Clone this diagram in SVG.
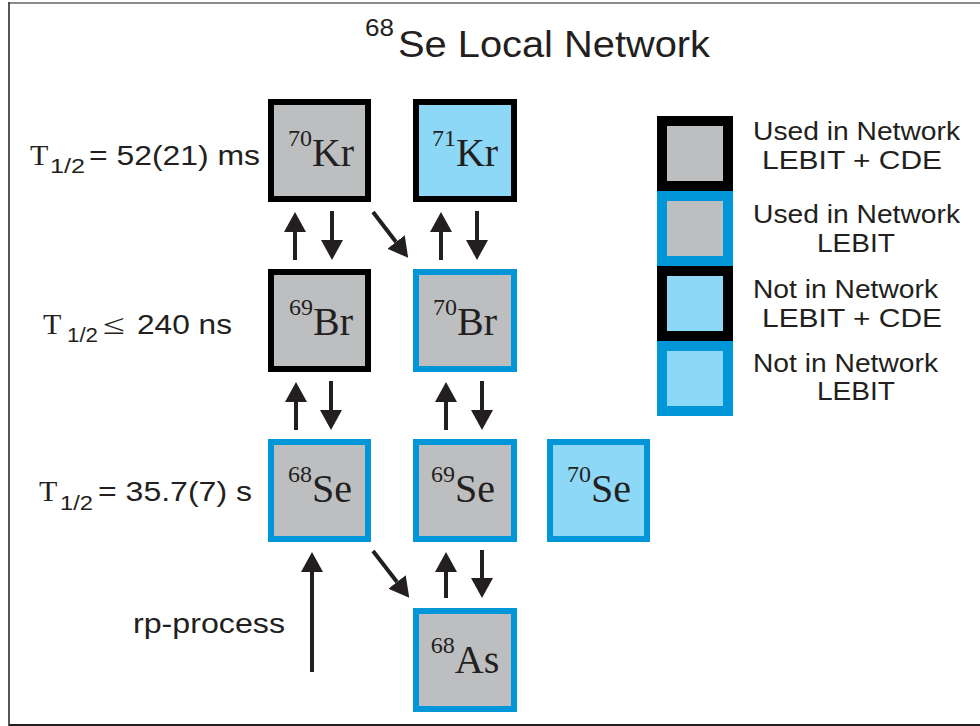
<svg xmlns="http://www.w3.org/2000/svg" width="980" height="726" viewBox="0 0 980 726">
<defs>
<style>
.sans{font-family:"Liberation Sans",Arial,sans-serif;fill:#231f20}
.serif{font-family:"Liberation Serif","Times New Roman",serif;fill:#231f20}
.nlab{font-size:40px;text-anchor:middle}
.sup{font-size:24px}
.gray{fill:#bcbec0}
.lblue{fill:#8dd7f7}
.kb{stroke:#000;stroke-width:6}
.bb{stroke:#0096d8;stroke-width:6}
.lk{stroke:#000;stroke-width:10}
.lb{stroke:#0096d8;stroke-width:10}
.arr{stroke:#231f20;stroke-width:4;fill:none;marker-end:url(#ah)}
.leg{font-size:25px}
.lft{font-size:28px}
.sub{font-size:21px}
.tT{font-size:30px}
</style>
<marker id="ah" viewBox="0 0 20 22" refX="0" refY="11" markerWidth="20" markerHeight="22" markerUnits="userSpaceOnUse" orient="auto">
<path d="M0,0 L20,11 L0,22 z" fill="#231f20"/>
</marker>
</defs>
<rect width="980" height="726" fill="#fff"/>
<g id="frame">
<line x1="9" y1="3" x2="980" y2="3" stroke="#8c8c8c" stroke-width="2"/>
<line x1="9" y1="2" x2="9" y2="726" stroke="#231f20" stroke-width="1.5"/>
<line x1="9" y1="725" x2="980" y2="725" stroke="#231f20" stroke-width="2"/>
</g>
<g id="title">
<text class="sans" x="365" y="36" font-size="24" textLength="29" lengthAdjust="spacingAndGlyphs">68</text>
<text class="sans" x="398" y="57" font-size="37" textLength="312" lengthAdjust="spacingAndGlyphs">Se Local Network</text>
</g>
<g id="halflives">
<text class="serif tT" x="30" y="165">T</text>
<text class="sans sub" x="50" y="173" textLength="35" lengthAdjust="spacingAndGlyphs">1/2</text>
<text class="sans lft" x="89" y="165" textLength="171" lengthAdjust="spacingAndGlyphs">= 52(21) ms</text>
<text class="serif tT" x="43" y="334">T</text>
<text class="sans sub" x="67" y="342" textLength="31" lengthAdjust="spacingAndGlyphs">1/2</text>
<text class="serif lft" x="103" y="334" textLength="22" lengthAdjust="spacingAndGlyphs">≤</text>
<text class="sans lft" x="137" y="334" textLength="95" lengthAdjust="spacingAndGlyphs">240 ns</text>
<text class="serif tT" x="39" y="501">T</text>
<text class="sans sub" x="60" y="510" textLength="33" lengthAdjust="spacingAndGlyphs">1/2</text>
<text class="sans lft" x="98" y="501" textLength="154" lengthAdjust="spacingAndGlyphs">= 35.7(7) s</text>
<text class="sans lft" x="133" y="633" textLength="152" lengthAdjust="spacingAndGlyphs">rp-process</text>
</g>
<g id="Kr70">
<rect class="gray kb" x="271" y="102" width="97" height="97"/>
<text class="serif nlab" x="321" y="166"><tspan class="sup" dy="-20">70</tspan><tspan dy="20">Kr</tspan></text>
</g>
<g id="Kr71">
<rect class="lblue kb" x="416" y="102" width="98" height="97"/>
<text class="serif nlab" x="465" y="166"><tspan class="sup" dy="-20">71</tspan><tspan dy="20">Kr</tspan></text>
</g>
<g id="Br69">
<rect class="gray kb" x="271" y="272" width="97" height="97"/>
<text class="serif nlab" x="321" y="335"><tspan class="sup" dy="-20">69</tspan><tspan dy="20">Br</tspan></text>
</g>
<g id="Br70">
<rect class="gray bb" x="416" y="272" width="98" height="97"/>
<text class="serif nlab" x="465" y="335"><tspan class="sup" dy="-20">70</tspan><tspan dy="20">Br</tspan></text>
</g>
<g id="Se68">
<rect class="gray bb" x="271" y="442" width="97" height="97"/>
<text class="serif nlab" x="320" y="502"><tspan class="sup" dy="-20">68</tspan><tspan dy="20">Se</tspan></text>
</g>
<g id="Se69">
<rect class="gray bb" x="416" y="442" width="98" height="97"/>
<text class="serif nlab" x="463" y="502"><tspan class="sup" dy="-20">69</tspan><tspan dy="20">Se</tspan></text>
</g>
<g id="Se70">
<rect class="lblue bb" x="550" y="442" width="97" height="97"/>
<text class="serif nlab" x="599" y="502"><tspan class="sup" dy="-20">70</tspan><tspan dy="20">Se</tspan></text>
</g>
<g id="As68">
<rect class="gray bb" x="416" y="611" width="98" height="98"/>
<text class="serif nlab" x="465" y="673"><tspan class="sup" dy="-20">68</tspan><tspan dy="20">As</tspan></text>
</g>
<g id="connectors">
<line class="arr" x1="295" y1="260" x2="295" y2="232"/>
<line class="arr" x1="332" y1="211" x2="332" y2="240"/>
<line class="arr" x1="373" y1="212" x2="396" y2="242"/>
<line class="arr" x1="441" y1="260" x2="441" y2="232"/>
<line class="arr" x1="477" y1="211" x2="477" y2="240"/>
<line class="arr" x1="296" y1="430" x2="296" y2="402"/>
<line class="arr" x1="331" y1="381" x2="331" y2="410"/>
<line class="arr" x1="446" y1="430" x2="446" y2="402"/>
<line class="arr" x1="482" y1="381" x2="482" y2="410"/>
<line class="arr" x1="373" y1="551" x2="397" y2="582"/>
<line class="arr" x1="446" y1="598" x2="446" y2="572"/>
<line class="arr" x1="482" y1="550" x2="482" y2="578"/>
<line class="arr" x1="312" y1="672" x2="312" y2="572"/>
</g>
<g id="legend">
<g id="leg1">
<rect class="gray lk" x="662" y="121" width="66" height="65"/>
<text class="sans leg" x="753" y="140" textLength="207" lengthAdjust="spacingAndGlyphs">Used in Network</text>
<text class="sans leg" x="762" y="169" textLength="180" lengthAdjust="spacingAndGlyphs">LEBIT + CDE</text>
</g>
<g id="leg2">
<rect class="gray lb" x="662" y="196" width="66" height="65"/>
<text class="sans leg" x="753" y="223" textLength="207" lengthAdjust="spacingAndGlyphs">Used in Network</text>
<text class="sans leg" x="817" y="252" textLength="78" lengthAdjust="spacingAndGlyphs">LEBIT</text>
</g>
<g id="leg3">
<rect class="lblue lk" x="662" y="271" width="66" height="65"/>
<text class="sans leg" x="753" y="298" textLength="185" lengthAdjust="spacingAndGlyphs">Not in Network</text>
<text class="sans leg" x="762" y="327" textLength="180" lengthAdjust="spacingAndGlyphs">LEBIT + CDE</text>
</g>
<g id="leg4">
<rect class="lblue lb" x="662" y="346" width="66" height="65"/>
<text class="sans leg" x="753" y="372" textLength="185" lengthAdjust="spacingAndGlyphs">Not in Network</text>
<text class="sans leg" x="817" y="400" textLength="78" lengthAdjust="spacingAndGlyphs">LEBIT</text>
</g>
</g>
</svg>
